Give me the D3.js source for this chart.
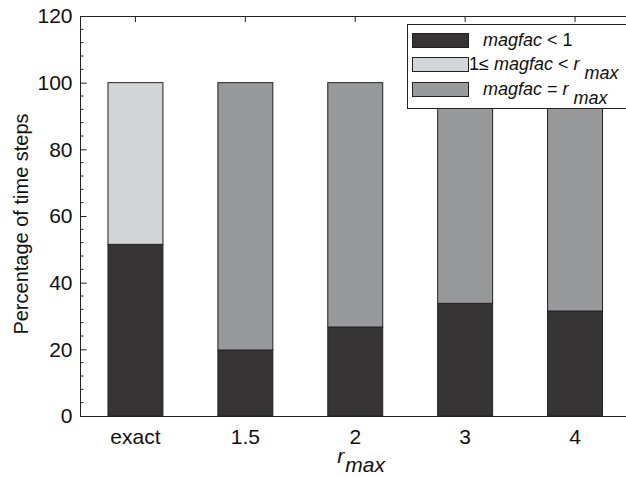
<!DOCTYPE html>
<html>
<head>
<meta charset="utf-8">
<script src="https://cdn.jsdelivr.net/npm/d3@7"></script>
<style>
  html, body { margin: 0; padding: 0; background: #fff; }
  svg { display: block; }
  text { font-family: "Liberation Sans", Arial, Helvetica, sans-serif; fill: #111; }
</style>
</head>
<body>
<svg id="chart" width="626" height="477"></svg>
<script>
// Share of time steps in each magnification regime, per r_max setting
const categories = ["exact", "1.5", "2", "3", "4"];
const belowOne   = [51.5, 19.8, 26.7, 33.8, 31.5];   // magfac < 1
const between    = [48.5, 0, 0, 0, 0];               // 1 <= magfac < r_max
const atMax      = [0, 80.2, 73.3, 66.2, 68.5];      // magfac = r_max
const yTicks     = [0, 20, 40, 60, 80, 100, 120];

const seriesKeys   = ["below", "between", "atMax"];
const seriesColors = { below: "#363435", between: "#d4d5d7", atMax: "#98999b" };

const rows = categories.map((c, i) => ({
  cat: c, below: belowOne[i], between: between[i], atMax: atMax[i]
}));

const svg = d3.select("#chart");
const plotLeft = 80.5, plotTop = 16, plotBottom = 416, plotRight = 630;

const x = d3.scaleBand().domain(categories).range([plotLeft, plotRight])
  .paddingInner(0.5).paddingOuter(0.25);
const y = d3.scaleLinear().domain([0, 120]).range([plotBottom, plotTop]);

const stack = d3.stack().keys(seriesKeys)(rows);

// bars
svg.append("g").selectAll("g").data(stack).join("g")
  .attr("fill", d => seriesColors[d.key])
  .selectAll("rect").data(d => d.filter(p => p[1] - p[0] > 0)).join("rect")
  .attr("x", d => x(d.data.cat))
  .attr("width", x.bandwidth())
  .attr("y", d => y(d[1]))
  .attr("height", d => y(d[0]) - y(d[1]))
  .attr("stroke", "#222")
  .attr("stroke-width", 1);

// frame
svg.append("rect").attr("x", plotLeft).attr("y", plotTop + 0.5)
  .attr("width", plotRight - plotLeft).attr("height", plotBottom - plotTop)
  .attr("fill", "none").attr("stroke", "#222").attr("stroke-width", 1);

// left axis, ticks pointing inward
const yAxis = d3.axisLeft(y).tickValues(yTicks).tickSize(-6).tickPadding(8);
const gy = svg.append("g").attr("transform", `translate(${plotLeft},0)`).call(yAxis);
gy.select(".domain").remove();
gy.selectAll("text").attr("font-size", 21).attr("fill", "#111")
  .attr("font-family", "Liberation Sans, Arial, sans-serif");
gy.selectAll("line").attr("stroke", "#222");

// minor ticks every 4 units
const minor = d3.range(0, 121, 4).filter(v => v % 20 !== 0);
svg.append("g").selectAll("line").data(minor).join("line")
  .attr("x1", plotLeft).attr("x2", plotLeft + 3)
  .attr("y1", d => y(d)).attr("y2", d => y(d))
  .attr("stroke", "#222");

// bottom axis labels
const xAxis = d3.axisBottom(x).tickSize(0).tickPadding(13);
const gx = svg.append("g").attr("transform", `translate(0,${plotBottom})`).call(xAxis);
gx.select(".domain").remove();
gx.selectAll("text").attr("font-size", 21).attr("fill", "#111")
  .attr("font-family", "Liberation Sans, Arial, sans-serif");

// top axis ticks at category centres
svg.append("g").selectAll("line").data(categories).join("line")
  .attr("x1", d => x(d) + x.bandwidth() / 2).attr("x2", d => x(d) + x.bandwidth() / 2)
  .attr("y1", plotTop).attr("y2", plotTop + 6)
  .attr("stroke", "#222");

// axis titles
svg.append("text")
  .attr("transform", "translate(28,224) rotate(-90)")
  .attr("text-anchor", "middle").attr("font-size", 20)
  .text("Percentage of time steps");

const xt = svg.append("text").attr("x", x("2") + x.bandwidth() / 2 - 18).attr("y", 463)
  .attr("font-size", 21);
xt.append("tspan").attr("font-style", "italic").text("r");
xt.append("tspan").attr("font-style", "italic").attr("dy", 9).attr("dx", 1).text("max");

// legend
const lg = svg.append("g");
lg.append("rect").attr("x", 407.5).attr("y", 24.5).attr("width", 240).attr("height", 84)
  .attr("fill", "#fff").attr("stroke", "#222");

const legendRows = [
  { key: "below",   y: 33 },
  { key: "between", y: 57 },
  { key: "atMax",   y: 82 }
];
lg.selectAll("rect.sw").data(legendRows).join("rect").attr("class", "sw")
  .attr("x", 412.5).attr("y", d => d.y + 0.5).attr("width", 56).attr("height", 14)
  .attr("fill", d => seriesColors[d.key]).attr("stroke", "#222");

const t1 = lg.append("text").attr("x", 483).attr("y", 46).attr("font-size", 18);
t1.append("tspan").attr("font-style", "italic").text("magfac");
t1.append("tspan").text(" < 1");

const t2 = lg.append("text").attr("x", 469).attr("y", 70).attr("font-size", 18);
t2.append("tspan").text("1≤ ");
t2.append("tspan").attr("font-style", "italic").text("magfac");
t2.append("tspan").text(" < ");
t2.append("tspan").attr("font-style", "italic").text("r");
t2.append("tspan").attr("font-style", "italic").attr("dx", 5).attr("dy", 9).text("max");

const t3 = lg.append("text").attr("x", 483).attr("y", 95).attr("font-size", 18);
t3.append("tspan").attr("font-style", "italic").text("magfac");
t3.append("tspan").text(" = ");
t3.append("tspan").attr("font-style", "italic").text("r");
t3.append("tspan").attr("font-style", "italic").attr("dx", 5).attr("dy", 9).text("max");
</script>
</body>
</html>
